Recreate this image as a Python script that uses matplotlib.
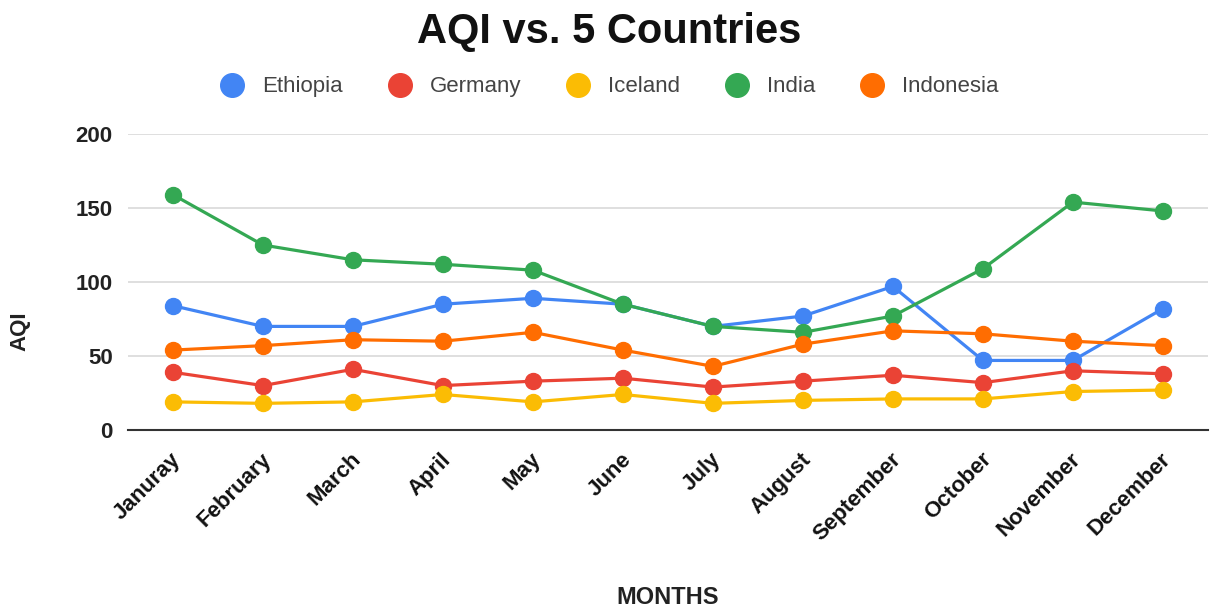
import matplotlib.pyplot as plt
from matplotlib.lines import Line2D
from matplotlib.transforms import ScaledTranslation

plt.rcParams['font.family'] = ['Liberation Sans', 'DejaVu Sans']

months = ['Januray', 'February', 'March', 'April', 'May', 'June', 'July',
          'August', 'September', 'October', 'November', 'December']

ethiopia = [84, 70, 70, 85, 89, 85, 70, 77, 97, 47, 47, 82]
germany = [39, 30, 41, 30, 33, 35, 29, 33, 37, 32, 40, 38]
iceland = [19, 18, 19, 24, 19, 24, 18, 20, 21, 21, 26, 27]
india = [159, 125, 115, 112, 108, 85, 70, 66, 77, 109, 154, 148]
indonesia = [54, 57, 61, 60, 66, 54, 43, 58, 67, 65, 60, 57]

series = [('Ethiopia', ethiopia, '#4285F4'),
          ('Germany', germany, '#EA4335'),
          ('Iceland', iceland, '#FBBC04'),
          ('India', india, '#34A853'),
          ('Indonesia', indonesia, '#FF6D01')]

fig = plt.figure(figsize=(12.14, 6.12), dpi=100)
ax = fig.add_axes([0.1054, 0.2974, 0.8896, 0.4836])

x = list(range(len(months)))
for name, vals, col in series:
    ax.plot(x, vals, color=col, lw=2.3, marker='o', ms=11.5, label=name, zorder=3)

ax.set_xlim(-0.5, len(months) - 0.5)
ax.set_ylim(0, 200)
ax.set_yticks([0, 50, 100, 150, 200])
ax.grid(axis='y', color='#d9d9d9', lw=1.2)
ax.set_axisbelow(True)
for s in ['top', 'right', 'left']:
    ax.spines[s].set_visible(False)
ax.spines['bottom'].set_color('#333333')
ax.spines['bottom'].set_linewidth(1.5)
ax.tick_params(length=0)
ax.tick_params(axis='y', labelsize=16, pad=11)
ax.tick_params(axis='x', pad=19)
ax.set_xticks(x)
ax.set_xticklabels(months, rotation=45, ha='right', va='center',
                   rotation_mode='anchor', fontsize=16, fontweight='bold',
                   color='#111111')
# nudge the slanted month names a little to the right
shift = ScaledTranslation(5 / 100, 0, fig.dpi_scale_trans)
for t in ax.get_xticklabels():
    t.set_transform(t.get_transform() + shift)
for t in ax.get_yticklabels():
    t.set_fontweight('bold')
    t.set_color('#222222')

# axis titles
fig.text(20 / 1214, 1 - 331 / 612, 'AQI', rotation=90, ha='center', va='center',
         fontsize=16, fontweight='bold', color='#222222')
fig.text(668 / 1214, 1 - 598 / 612, 'MONTHS', ha='center', va='center',
         fontsize=17, fontweight='bold', color='#222222')
fig.text(609 / 1214, 0.947, 'AQI vs. 5 Countries', ha='center', va='center',
         fontsize=30, fontweight='bold', color='#111111')

handles = [Line2D([], [], ls='none', marker='o', ms=17, color=c) for _, _, c in series]
fig.legend(handles, [n for n, _, _ in series], loc='center', ncol=5,
           bbox_to_anchor=(610 / 1214, 0.858), frameon=False, fontsize=16,
           handlelength=1.0, handletextpad=0.86, columnspacing=2.05,
           labelcolor='#444444')

fig.savefig('out.png', dpi=100)
